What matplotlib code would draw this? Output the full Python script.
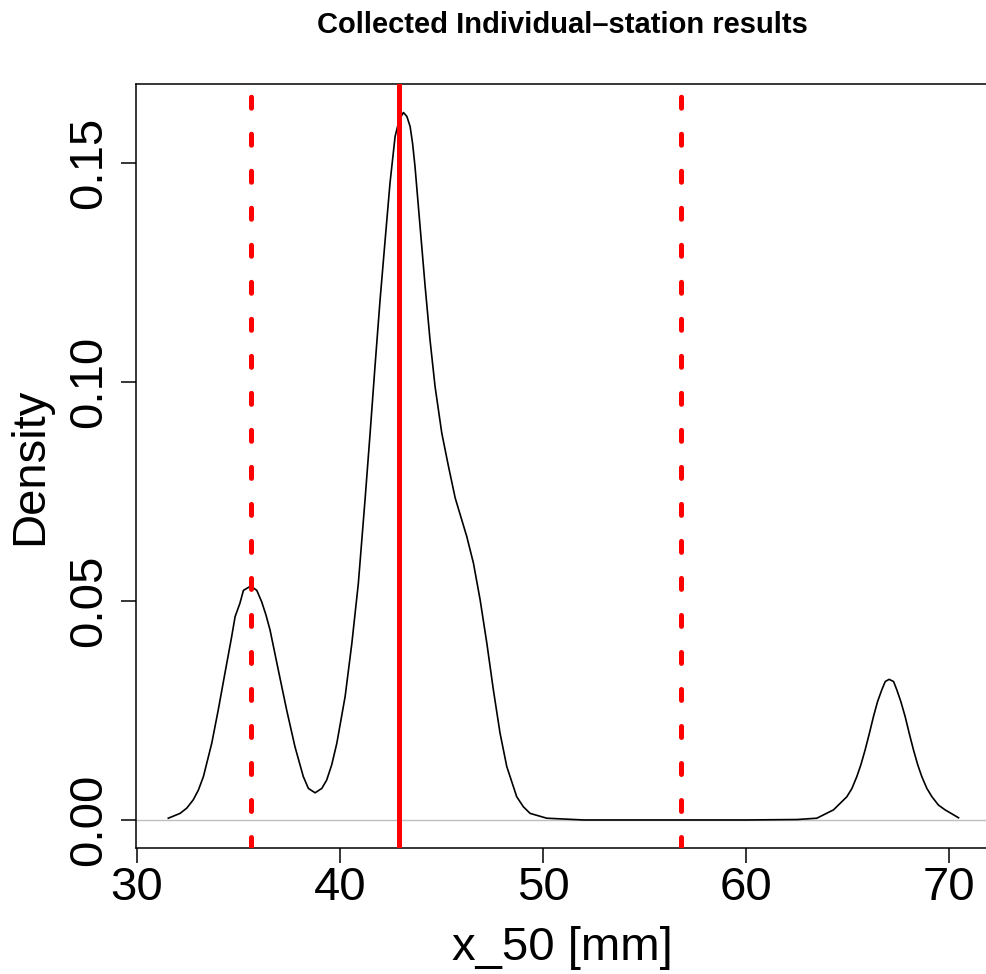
import matplotlib
matplotlib.use("Agg")
import matplotlib.pyplot as plt

plt.rcParams['font.family'] = ['Liberation Sans', 'DejaVu Sans']
plt.rcParams['lines.scale_dashes'] = False

# density curve
dens_x = [31.54, 32.12, 32.45, 32.77, 33.02, 33.27, 33.68, 34.00, 34.33, 34.66,
          34.83, 35.07, 35.24, 35.60, 35.90, 36.14, 36.35, 36.55, 36.96, 37.37,
          37.78, 38.19, 38.44, 38.77, 39.10, 39.34, 39.59, 39.84, 40.25, 40.58,
          40.90, 41.23, 41.48, 41.72, 41.97, 42.22, 42.46, 42.71, 42.87, 42.96,
          43.12, 43.29, 43.45, 43.57, 43.69, 43.94, 44.19, 44.43, 44.68, 45.01,
          45.34, 45.67, 46.24, 46.57, 46.90, 47.23, 47.55, 47.88, 48.21, 48.70,
          49.03, 49.36, 50.18, 52.0, 55.0, 60.0, 62.5, 63.48, 64.30, 64.63,
          64.96, 65.21, 65.45, 65.65, 65.86, 66.07, 66.27, 66.47, 66.68, 66.85,
          67.04, 67.26, 67.42, 67.62, 67.83, 68.03, 68.24, 68.45, 68.65, 68.90,
          69.15, 69.47, 69.80, 70.46]
dens_y = [0.0004, 0.0015, 0.0027, 0.0046, 0.0068, 0.0099, 0.0175, 0.0251, 0.0335, 0.0418,
          0.0464, 0.0495, 0.0524, 0.0534, 0.0524, 0.0498, 0.0468, 0.0434, 0.0342, 0.0251,
          0.0167, 0.0099, 0.0072, 0.0062, 0.0072, 0.0091, 0.0126, 0.0175, 0.0282, 0.0403,
          0.0540, 0.0731, 0.0883, 0.1035, 0.1187, 0.1324, 0.1454, 0.1560, 0.1590, 0.1602,
          0.1615, 0.1606, 0.1583, 0.1545, 0.1492, 0.1355, 0.1218, 0.1096, 0.0989, 0.0883,
          0.0807, 0.0735, 0.0647, 0.0586, 0.0502, 0.0403, 0.0297, 0.0198, 0.0122, 0.0053,
          0.0030, 0.0015, 0.0004, 0.0, 0.0, 0.0, 0.0001, 0.0004, 0.0023, 0.0038,
          0.0053, 0.0072, 0.0099, 0.0126, 0.0160, 0.0198, 0.0236, 0.0270, 0.0297, 0.0316,
          0.0321, 0.0316, 0.0297, 0.0270, 0.0236, 0.0198, 0.0160, 0.0126, 0.0099, 0.0072,
          0.0053, 0.0034, 0.0023, 0.0005]

dashed_x = [35.62, 56.80]
solid_x = 42.91

xticks = [30, 40, 50, 60, 70]
yticks = [0.00, 0.05, 0.10, 0.15]

fig = plt.figure(figsize=(9.86, 9.74), dpi=100)
ax = fig.add_axes([136/986, (974-848)/974, 853/986, 764/974])

ax.axhline(0, color='#bebebe', lw=1.0, zorder=1)
ax.plot(dens_x, dens_y, color='black', lw=1.2, zorder=2)
for xv in dashed_x:
    # dash lengths in points
    ax.axvline(xv, color='red', lw=3.6, linestyle=(0, (7.9, 18.75)),
               dash_capstyle='round', zorder=3)
ax.axvline(solid_x, color='red', lw=3.6, zorder=3)

ax.set_xlim(29.95, 71.96)
ax.set_ylim(-0.0064, 0.168)
ax.set_xticks(xticks)
ax.set_yticks(yticks)
ax.set_yticklabels(['%.2f' % v for v in yticks])
ax.tick_params(axis='both', direction='out', length=10.8, width=1.1, labelsize=34)
ax.tick_params(axis='x', pad=2)
ax.tick_params(axis='y', pad=7, labelrotation=90)
for lab in ax.get_yticklabels():
    lab.set_va('center')
for sp in ax.spines.values():
    sp.set_linewidth(1.1)

ax.set_xlabel('x_50 [mm]', fontsize=34, va='baseline')
ax.xaxis.set_label_coords(0.5, -0.1466)
ax.set_ylabel('Density', fontsize=34, va='baseline')
ax.yaxis.set_label_coords(-0.110, 0.5)

fig.text(562.5/986, (974-33)/974, 'Collected Individual\u2013station results',
         ha='center', va='baseline', fontsize=21, fontweight='bold')

fig.savefig('out.png', dpi=100)
